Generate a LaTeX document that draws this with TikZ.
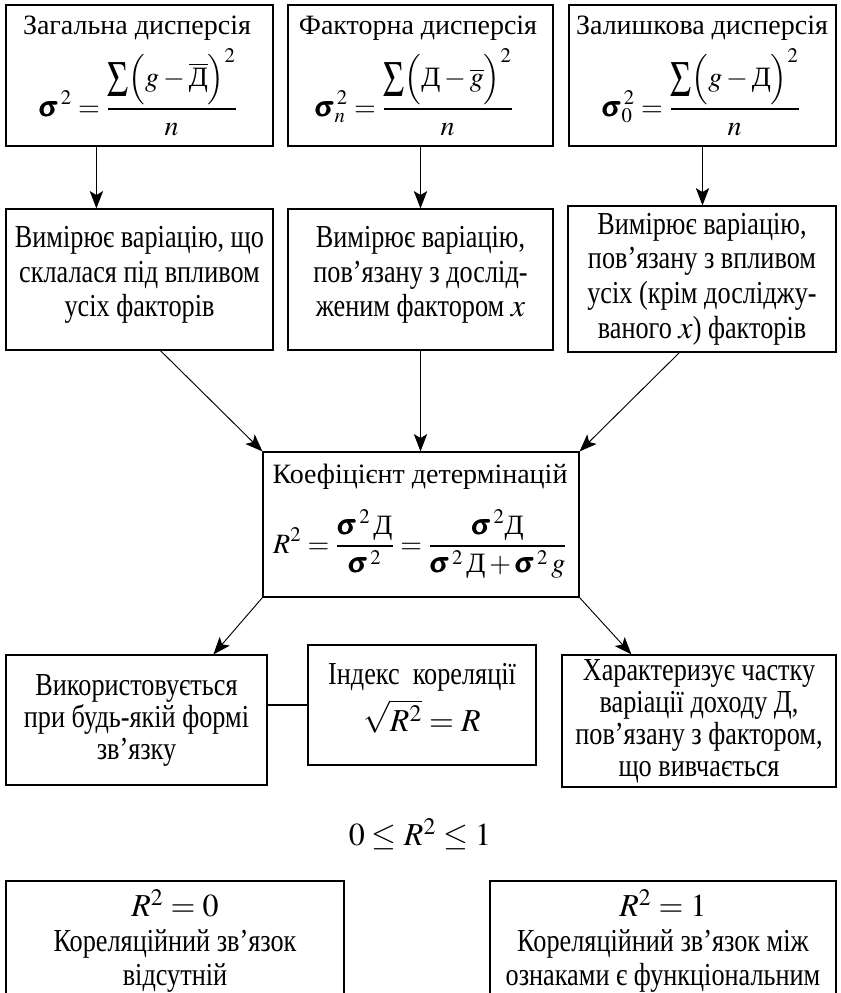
\documentclass[tikz,border=0pt]{standalone}
\usepackage{amsmath}
\usepackage{mathptmx}
\usepackage[no-math]{fontspec}
\setmainfont{Liberation Serif}
\newfontfamily\condf[FakeStretch=0.82]{Liberation Serif}
\usetikzlibrary{arrows.meta,calc}
\newcommand{\Dk}{\text{Д}}
\newcommand{\sg}{\pmb{\sigma}}
\newcommand{\BigSum}{\mathop{\vcenter{\hbox{\scalebox{1.25}[1.8]{$\Sigma$}}}}\nolimits}
\begin{document}
\begin{tikzpicture}[x=0.75pt,y=-0.75pt,
  box/.style={draw, line width=0.9pt, rectangle, inner sep=0pt, align=center},
  ttl/.style={font=\fontsize{21}{25}\selectfont, inner sep=0pt},
  fml/.style={font=\fontsize{21}{25}\selectfont, inner sep=0pt},
  cnd/.style={font=\condf\fontsize{24}{26}\selectfont},
  cndl/.style={font=\condf\fontsize{24}{24}\selectfont},
  cndb/.style={font=\condf\fontsize{24}{26}\selectfont, align=center, inner sep=0pt},
  arr/.style={-{Stealth[length=13pt,width=10pt,inset=3pt]}, line width=0.7pt}]
\useasboundingbox (0,0) rectangle (840,993);

% top row
\node[box, minimum width=200.25pt, minimum height=105.75pt] (b1) at (139.5,75.5) {};
\node[box, minimum width=198.75pt, minimum height=105.75pt] (b2) at (420.5,75.5) {};
\node[box, minimum width=200.25pt, minimum height=105.75pt] (b3) at (702.5,75.5) {};
\node[ttl, anchor=base] (t1) at (137,34) {Загальна дисперсія};
\node[ttl, anchor=base] (t2) at (418,34) {Факторна дисперсія};
\node[ttl, anchor=base] (t3) at (702,34) {Залишкова дисперсія};
\node[fml, anchor=base] (f1) at (138,116)
  {$\displaystyle \sg^{\,2}=\frac{\BigSum\Bigl(g-\overline{\Dk}\Bigr)^{2}}{n}$};
\node[fml, anchor=base] (f2) at (414,116)
  {$\displaystyle \sg_{n}^{\,2}=\frac{\BigSum\Bigl(\Dk-\overline{g}\Bigr)^{2}}{n}$};
\node[fml, anchor=base] (f3) at (701,116)
  {$\displaystyle \sg_{0}^{\,2}=\frac{\BigSum\Bigl(g-\Dk\Bigr)^{2}}{n}$};

% middle row
\node[box, minimum width=200.25pt, minimum height=105.75pt] (b4) at (139.5,279.5) {};
\node[cnd, align=center, inner sep=0pt] (b4t) at (139.5,275)
  {Вимірює варіацію, що\\склалася під впливом\\усіх факторів};
\node[box, minimum width=198.75pt, minimum height=105.75pt] (b5) at (420.5,279.5) {};
\node[cnd, align=center, inner sep=0pt] (b5t) at (420.5,275)
  {Вимірює варіацію,\\пов’язану з дослід-\\женим фактором $x$};
\node[box, cnd, minimum width=201pt, minimum height=109.5pt] (b6) at (702,279)
  {Вимірює варіацію,\\пов’язану з впливом\\усіх (крім досліджу-\\ваного $x$) факторів};

\draw[arr] ($(b1.south west)+(91,0)$) -- ($(b4.north west)+(91,0)$);
\draw[arr] (b2.south) -- (b5.north);
\draw[arr] (b3.south) -- (b3.south |- b6.north);

% centre
\node[box, minimum width=237pt, minimum height=108.75pt] (c) at (421,524.5) {};
\node[ttl, anchor=base] (ct) at (420,483) {Коефіцієнт детермінацій};
\node[fml, anchor=base] (cf) at (420,553)
  {$\displaystyle R^2=\frac{\sg^{\,2}\,\Dk}{\sg^{\,2}}=\frac{\sg^{\,2}\Dk}{\sg^{\,2}\,\Dk+\sg^{\,2}\,g}$};

\draw[arr] ($(b4.south west)+(155,0)$) -- (c.north west);
\draw[arr] (b5.south) -- (b5.south |- c.north);
\draw[arr] ($(b6.south west)+(112,0)$) -- (c.north east);

% lower row
\node[box, cndl, minimum width=195.75pt, minimum height=97.5pt] (b7) at (136.5,720)
  {Використовується\\при будь-якій формі\\зв’язку};
\node[box, minimum width=171pt, minimum height=90pt] (b8) at (422,705) {};
\node[cnd, anchor=base, inner sep=0pt] (b8t) at (422,684) {Індекс\ \ кореляції};
\node[cnd, anchor=base, inner sep=0pt] (b8f) at (422,731) {$\sqrt{R^2}=R$};
\node[box, cndl, minimum width=205.5pt, minimum height=99pt] (b9) at (699,721)
  {Характеризує частку\\варіації доходу Д,\\пов’язану з фактором,\\що вивчається};

\draw[arr] (c.south west) -- ($(b7.north west)+(208,0)$);
\draw[arr] (c.south east) -- ($(b9.north west)+(70,0)$);
\draw[line width=0.9pt] (b8.west -| b7.east) -- (b8.west);

\node[cnd, inner sep=0pt] (ineq) at (420,834) {$0\le R^2\le 1$};

% bottom open boxes
\node[cndb] (t10) at (175,941) {$R^2=0$\\Кореляційний зв’язок\\відсутній};
\node[cndb] (t11) at (663,941) {$R^2=1$\\Кореляційний зв’язок між\\ознаками є функціональним};
\draw[line width=0.9pt] (6,993) -- (6,881) -- (344,881) -- (344,993);
\draw[line width=0.9pt] (490,993) -- (490,881) -- (836,881) -- (836,993);
\end{tikzpicture}
\end{document}
